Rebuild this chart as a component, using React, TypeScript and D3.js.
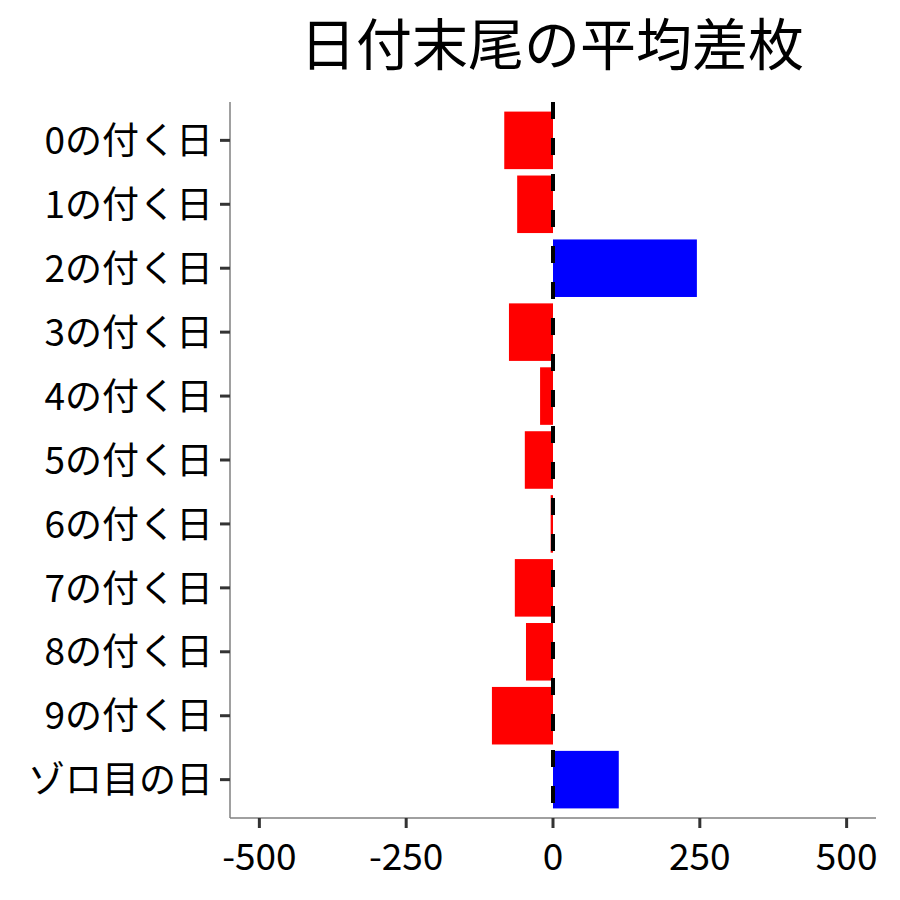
import React from 'react'
import * as d3 from 'd3'

const categories = ['0の付く日', '1の付く日', '2の付く日', '3の付く日', '4の付く日', '5の付く日', '6の付く日', '7の付く日', '8の付く日', '9の付く日', 'ゾロ目の日']
const diffValues = [-83, -61, 245, -75, -22, -48, -4, -65, -46, -104, 112]
const xTicks = [-500, -250, 0, 250, 500]
const title = '日付末尾の平均差枚'

const width = 900
const height = 900
const left = 230
const right = 876
const top = 102
const bottom = 818
const fontFamily = '"Noto Sans CJK JP", "Noto Sans", sans-serif'

const App: React.FC = () => {
  const xScale = d3.scaleLinear().domain([-550, 550]).range([left, right])

  // ggplot-style discrete axis: 0.6 band expansion on both sides
  const step = (bottom - top) / (categories.length - 1 + 1.2)
  const yCenter = (i: number) => top + step * (0.6 + i)
  const barHeight = step * 0.9

  return (
    <svg width={width} height={height} style={{ position: 'absolute', left: 0, top: 0 }}>
      <rect x={0} y={0} width={width} height={height} fill="white" />
      <text x={(left + right) / 2 - 1} y={65} textAnchor="middle" fontFamily={fontFamily} fontSize={56} fill="black">
        {title}
      </text>

      {diffValues.map((v, i) => (
        <rect
          key={categories[i]}
          x={Math.min(xScale(0), xScale(v))}
          y={yCenter(i) - barHeight / 2}
          width={Math.abs(xScale(v) - xScale(0))}
          height={barHeight}
          fill={v >= 0 ? '#0000ff' : '#ff0000'}
        />
      ))}

      <line x1={xScale(0)} x2={xScale(0)} y1={top} y2={bottom} stroke="black" strokeWidth={4} strokeDasharray="17 19" />

      <line x1={left} x2={left} y1={top} y2={bottom} stroke="#808080" strokeWidth={1.5} />
      <line x1={left} x2={right} y1={bottom} y2={bottom} stroke="#808080" strokeWidth={1.5} />

      {categories.map((c, i) => (
        <g key={c}>
          <line x1={left - 10} x2={left} y1={yCenter(i)} y2={yCenter(i)} stroke="#333333" strokeWidth={3} />
          <text x={left - 17} y={yCenter(i)} dy="0.37em" textAnchor="end" fontFamily={fontFamily} fontSize={37} fill="black">
            {c}
          </text>
        </g>
      ))}

      {xTicks.map(t => (
        <g key={t}>
          <line x1={xScale(t)} x2={xScale(t)} y1={bottom} y2={bottom + 10} stroke="#333333" strokeWidth={3} />
          <text x={xScale(t)} y={870} textAnchor="middle" fontFamily={fontFamily} fontSize={37} fill="black">
            {t}
          </text>
        </g>
      ))}
    </svg>
  )
}

export default App
